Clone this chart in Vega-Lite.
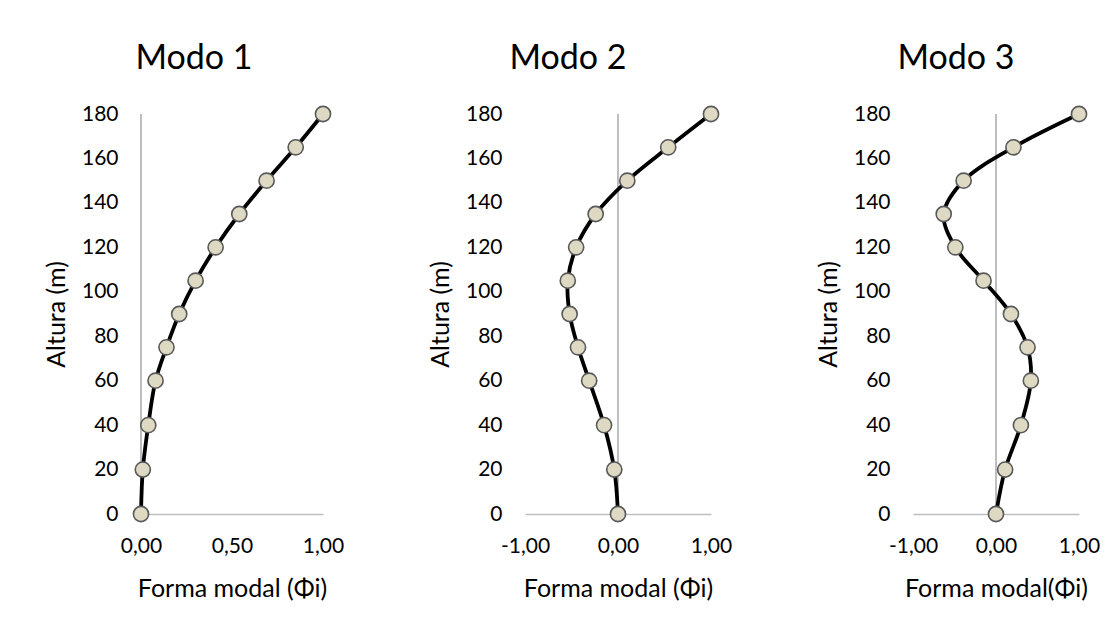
{
  "$schema": "https://vega.github.io/schema/vega-lite/v6.json",
  "background": "white",
  "padding": {"left": 44, "top": 42, "right": 0, "bottom": 0},
  "spacing": 84,
  "config": {
    "font": "Lato",
    "locale": {
      "number": {"decimal": ",", "thousands": ".", "grouping": [3], "currency": ["", " €"], "minus": "-"}
    },
    "view": {"stroke": null},
    "title": {"font": "Lato", "fontSize": 34, "fontWeight": "normal", "color": "#000000", "anchor": "middle", "offset": 27},
    "axis": {
      "labelFont": "Lato", "labelFontSize": 21, "labelColor": "#000000",
      "titleFont": "Lato", "titleFontSize": 25, "titleFontWeight": "normal", "titleColor": "#000000",
      "grid": false, "ticks": false
    },
    "axisX": {"domainColor": "#bfbfbf", "domainWidth": 1.6, "labelPadding": 21, "titlePadding": 20, "labelFlush": false, "format": ".2f"},
    "axisY": {"domain": false, "labelPadding": 23, "titlePadding": 12, "values": [0, 20, 40, 60, 80, 100, 120, 140, 160, 180], "format": "d"}
  },
  "datasets": {
    "modos": [
      {"modo": 1, "h": 0, "phi": 0.0},
      {"modo": 1, "h": 20, "phi": 0.01},
      {"modo": 1, "h": 40, "phi": 0.04},
      {"modo": 1, "h": 60, "phi": 0.08},
      {"modo": 1, "h": 75, "phi": 0.14},
      {"modo": 1, "h": 90, "phi": 0.21},
      {"modo": 1, "h": 105, "phi": 0.30},
      {"modo": 1, "h": 120, "phi": 0.41},
      {"modo": 1, "h": 135, "phi": 0.54},
      {"modo": 1, "h": 150, "phi": 0.69},
      {"modo": 1, "h": 165, "phi": 0.85},
      {"modo": 1, "h": 180, "phi": 1.0},
      {"modo": 2, "h": 0, "phi": 0.0},
      {"modo": 2, "h": 20, "phi": -0.04},
      {"modo": 2, "h": 40, "phi": -0.15},
      {"modo": 2, "h": 60, "phi": -0.31},
      {"modo": 2, "h": 75, "phi": -0.43},
      {"modo": 2, "h": 90, "phi": -0.52},
      {"modo": 2, "h": 105, "phi": -0.54},
      {"modo": 2, "h": 120, "phi": -0.45},
      {"modo": 2, "h": 135, "phi": -0.24},
      {"modo": 2, "h": 150, "phi": 0.10},
      {"modo": 2, "h": 165, "phi": 0.54},
      {"modo": 2, "h": 180, "phi": 1.0},
      {"modo": 3, "h": 0, "phi": 0.0},
      {"modo": 3, "h": 20, "phi": 0.11},
      {"modo": 3, "h": 40, "phi": 0.30},
      {"modo": 3, "h": 60, "phi": 0.42},
      {"modo": 3, "h": 75, "phi": 0.38},
      {"modo": 3, "h": 90, "phi": 0.18},
      {"modo": 3, "h": 105, "phi": -0.15},
      {"modo": 3, "h": 120, "phi": -0.49},
      {"modo": 3, "h": 135, "phi": -0.63},
      {"modo": 3, "h": 150, "phi": -0.39},
      {"modo": 3, "h": 165, "phi": 0.21},
      {"modo": 3, "h": 180, "phi": 1.0}
    ]
  },
  "hconcat": [
    {
      "width": 182, "height": 400,
      "title": {"text": "Modo 1", "dx": -38},
      "data": {"name": "modos"},
      "transform": [{"filter": "datum.modo == 1"}],
      "layer": [
        {
          "mark": {"type": "rule", "color": "#bfbfbf", "strokeWidth": 1.6},
          "encoding": {
            "x": {"datum": 0, "type": "quantitative"},
            "y": {"datum": 0, "type": "quantitative"},
            "y2": {"datum": 180}
          }
        },
        {
          "mark": {"type": "line", "interpolate": "catmull-rom", "color": "#000000", "strokeWidth": 3.8},
          "encoding": {
            "x": {"field": "phi", "type": "quantitative", "scale": {"domain": [0, 1], "nice": false, "zero": false},
                  "axis": {"title": "Forma modal (Φi)", "values": [0, 0.5, 1]}},
            "y": {"field": "h", "type": "quantitative", "scale": {"domain": [0, 180], "nice": false},
                  "axis": {"title": "Altura (m)"}},
            "order": {"field": "h", "type": "quantitative"}
          }
        },
        {
          "mark": {"type": "point", "filled": true, "size": 230, "fill": "#ddd9c3", "stroke": "#595959", "strokeWidth": 1.6, "opacity": 1},
          "encoding": {
            "x": {"field": "phi", "type": "quantitative"},
            "y": {"field": "h", "type": "quantitative"}
          }
        }
      ]
    },
    {
      "width": 186, "height": 400,
      "title": {"text": "Modo 2", "dx": -50},
      "data": {"name": "modos"},
      "transform": [{"filter": "datum.modo == 2"}],
      "layer": [
        {
          "mark": {"type": "rule", "color": "#bfbfbf", "strokeWidth": 1.6},
          "encoding": {
            "x": {"datum": 0, "type": "quantitative"},
            "y": {"datum": 0, "type": "quantitative"},
            "y2": {"datum": 180}
          }
        },
        {
          "mark": {"type": "line", "interpolate": "catmull-rom", "color": "#000000", "strokeWidth": 3.8},
          "encoding": {
            "x": {"field": "phi", "type": "quantitative", "scale": {"domain": [-1, 1], "nice": false},
                  "axis": {"title": "Forma modal (Φi)", "values": [-1, 0, 1]}},
            "y": {"field": "h", "type": "quantitative", "scale": {"domain": [0, 180], "nice": false},
                  "axis": {"title": "Altura (m)"}},
            "order": {"field": "h", "type": "quantitative"}
          }
        },
        {
          "mark": {"type": "point", "filled": true, "size": 230, "fill": "#ddd9c3", "stroke": "#595959", "strokeWidth": 1.6, "opacity": 1},
          "encoding": {
            "x": {"field": "phi", "type": "quantitative"},
            "y": {"field": "h", "type": "quantitative"}
          }
        }
      ]
    },
    {
      "width": 166, "height": 400,
      "title": {"text": "Modo 3", "dx": -40},
      "data": {"name": "modos"},
      "transform": [{"filter": "datum.modo == 3"}],
      "layer": [
        {
          "mark": {"type": "rule", "color": "#bfbfbf", "strokeWidth": 1.6},
          "encoding": {
            "x": {"datum": 0, "type": "quantitative"},
            "y": {"datum": 0, "type": "quantitative"},
            "y2": {"datum": 180}
          }
        },
        {
          "mark": {"type": "line", "interpolate": "catmull-rom", "color": "#000000", "strokeWidth": 3.8},
          "encoding": {
            "x": {"field": "phi", "type": "quantitative", "scale": {"domain": [-1, 1], "nice": false},
                  "axis": {"title": "Forma modal(Φi)", "values": [-1, 0, 1]}},
            "y": {"field": "h", "type": "quantitative", "scale": {"domain": [0, 180], "nice": false},
                  "axis": {"title": "Altura (m)"}},
            "order": {"field": "h", "type": "quantitative"}
          }
        },
        {
          "mark": {"type": "point", "filled": true, "size": 230, "fill": "#ddd9c3", "stroke": "#595959", "strokeWidth": 1.6, "opacity": 1},
          "encoding": {
            "x": {"field": "phi", "type": "quantitative"},
            "y": {"field": "h", "type": "quantitative"}
          }
        }
      ]
    }
  ]
}
